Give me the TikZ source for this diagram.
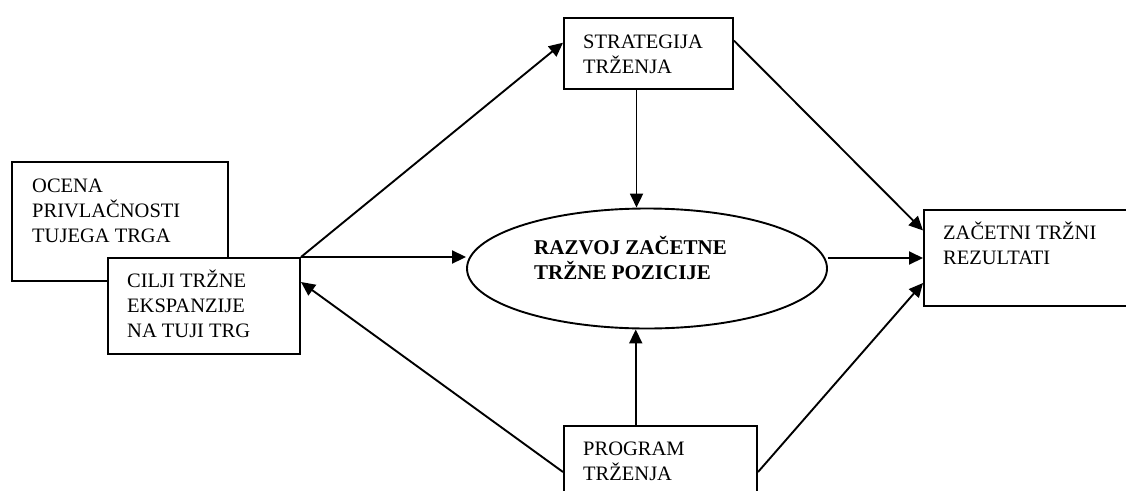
\documentclass[tikz,border=0pt]{standalone}
\usepackage{fontspec}
\setmainfont{Liberation Serif}
\usetikzlibrary{arrows.meta,calc,shapes.geometric}
\begin{document}
\begin{tikzpicture}[x=1pt,y=-1pt,
  box/.style={draw, line width=2pt, rectangle, inner sep=0pt, anchor=north west},
  lbl/.style={anchor=base west, inner sep=0pt, align=left, font=\fontsize{20.5}{25}\selectfont},
  arr/.style={line width=1.9pt, -{Triangle[length=14pt,width=13pt]}}]
\useasboundingbox (0,0) rectangle (1126,490);
\clip (0,0) rectangle (1126,490);
% boxes
\node[box, minimum width=216pt, minimum height=119pt] (ocena) at (11,161) {};
\node[box, fill=white, minimum width=192pt, minimum height=96pt] (cilji) at (107,257) {};
\node[box, minimum width=169pt, minimum height=71pt] (strat) at (563,17) {};
\node[box, minimum width=230pt, minimum height=96pt] (zac) at (923,209) {};
\node[box, minimum width=193pt, minimum height=100pt] (prog) at (563,425) {};
\node[draw, ellipse, line width=1.9pt, minimum width=360pt, minimum height=120pt, inner sep=0pt] (ell) at (647,268.5) {};
% labels (anchored at the baseline of the last line)
\node[lbl] (tOcena) at (32,242) {OCENA\\PRIVLAČNOSTI\\TUJEGA TRGA};
\node[lbl] (tCilji) at (127,337) {CILJI TRŽNE\\EKSPANZIJE\\NA TUJI TRG};
\node[lbl] (tStrat) at (583,73) {STRATEGIJA\\TRŽENJA};
\node[lbl, font=\fontsize{21}{25}\selectfont\bfseries] (tEll) at (534,279) {RAZVOJ ZAČETNE\\TRŽNE POZICIJE};
\node[lbl] (tZac) at (943,264) {ZAČETNI TRŽNI\\REZULTATI};
\node[lbl] (tProg) at (583,480) {PROGRAM\\TRŽENJA};
% connector points
\coordinate (sIn) at ($(strat.north west)!0.352!(strat.south west)$);
\coordinate (sOut) at ($(strat.south west)!0.43!(strat.south east)$);
\coordinate (pTop) at ($(prog.north west)!0.373!(prog.north east)$);
\coordinate (sR) at ($(strat.north east)!0.324!(strat.south east)$);
\coordinate (zA) at ($(zac.north west)!0.219!(zac.south west)$);
\coordinate (pL) at ($(prog.north west)+(0,47)$);
\coordinate (pR) at ($(prog.north east)+(0,47)$);
\coordinate (cR) at ($(cilji.north east)+(0,25)$);
\coordinate (zB) at ($(zac.north west)+(0,74)$);
% connectors
\draw[arr] (cilji.north east) -- (cilji.north east -| ell.west);
\draw[arr] (cilji.north east) -- (sIn);
\draw[arr] (sOut) -- (sOut |- ell.north);
\draw[arr] (pTop) -- (pTop |- ell.south);
\draw[arr] (sR) -- (zA);
\draw[arr] (ell.east |- zac.west) -- (zac.west);
\draw[arr] (pL) -- (cR);
\draw[arr] (pR) -- (zB);
\end{tikzpicture}
\end{document}
